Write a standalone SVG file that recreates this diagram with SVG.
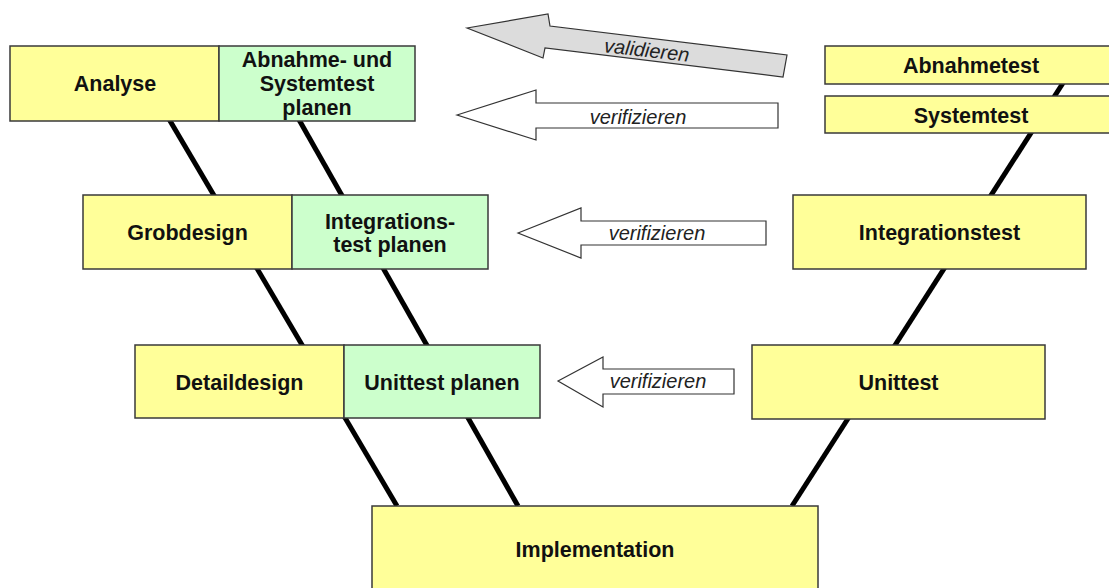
<svg xmlns="http://www.w3.org/2000/svg" width="1109" height="588" viewBox="0 0 1109 588">
<style>
.y{fill:#ffff99;stroke:#3a3a3a;stroke-width:1.5}
.g{fill:#ccffcc;stroke:#3a3a3a;stroke-width:1.5}
.t{font-family:"Liberation Sans",Arial,sans-serif;font-weight:bold;font-size:21.5px;fill:#111;text-anchor:middle}
.ln{stroke:#000;stroke-width:5;fill:none}
.ar{fill:#fff;stroke:#333;stroke-width:1.2;stroke-linejoin:miter}
.arg{fill:#dcdcdc;stroke:#333;stroke-width:1.2}
.it{font-family:"Liberation Sans",Arial,sans-serif;font-style:italic;font-size:20px;fill:#222;text-anchor:middle}
</style>
<rect width="1109" height="588" fill="#fff"/>
<g id="connectors">
<line class="ln" x1="133" y1="58" x2="397" y2="506"/>
<line class="ln" x1="264" y1="58" x2="518" y2="506"/>
<line class="ln" x1="1079" y1="58" x2="792" y2="506"/>
</g>
<g id="arrow-validieren">
<polygon class="arg" points="467,28 548,14 550,26 787,55 783,77 545,48 543,58"/>
<text class="it" transform="translate(646,57) rotate(6.5)">validieren</text>
</g>
<g id="arrow-verifizieren-1">
<polygon class="ar" points="457,115 536,90 536,103 778,103 778,128 536,128 536,140"/>
<text class="it" x="638" y="124">verifizieren</text>
</g>
<g id="arrow-verifizieren-2">
<polygon class="ar" points="518,233 581,208 581,221 766,221 766,245 581,245 581,258"/>
<text class="it" x="657" y="240">verifizieren</text>
</g>
<g id="arrow-verifizieren-3">
<polygon class="ar" points="558,381 603,357 603,369 734,369 734,394 603,394 603,407"/>
<text class="it" x="658" y="388">verifizieren</text>
</g>
<g id="analyse">
<rect class="y" x="10" y="46" width="209" height="75"/>
<text class="t" x="115" y="91">Analyse</text>
</g>
<g id="abnahme-systemtest-planen">
<rect class="g" x="219" y="46" width="196" height="75"/>
<text class="t" x="317" y="66.5">Abnahme- und</text>
<text class="t" x="317" y="91">Systemtest</text>
<text class="t" x="317" y="115">planen</text>
</g>
<g id="abnahmetest">
<rect class="y" x="825" y="46" width="293" height="38"/>
<text class="t" x="971" y="73">Abnahmetest</text>
</g>
<g id="systemtest">
<rect class="y" x="825" y="96" width="293" height="37"/>
<text class="t" x="971" y="122.5">Systemtest</text>
</g>
<g id="grobdesign">
<rect class="y" x="83" y="195" width="209" height="74"/>
<text class="t" x="187.5" y="240">Grobdesign</text>
</g>
<g id="integrationstest-planen">
<rect class="g" x="292" y="195" width="196" height="74"/>
<text class="t" x="390" y="228.5">Integrations-</text>
<text class="t" x="390" y="252">test planen</text>
</g>
<g id="integrationstest">
<rect class="y" x="793" y="195" width="293" height="74"/>
<text class="t" x="939.5" y="240">Integrationstest</text>
</g>
<g id="detaildesign">
<rect class="y" x="135" y="345" width="209" height="73"/>
<text class="t" x="239.5" y="389.5">Detaildesign</text>
</g>
<g id="unittest-planen">
<rect class="g" x="344" y="345" width="196" height="73"/>
<text class="t" x="442" y="389.5">Unittest planen</text>
</g>
<g id="unittest">
<rect class="y" x="752" y="345" width="293" height="74"/>
<text class="t" x="898.5" y="389.5">Unittest</text>
</g>
<g id="implementation">
<rect class="y" x="372" y="506" width="446" height="90"/>
<text class="t" x="595" y="557">Implementation</text>
</g>
</svg>
